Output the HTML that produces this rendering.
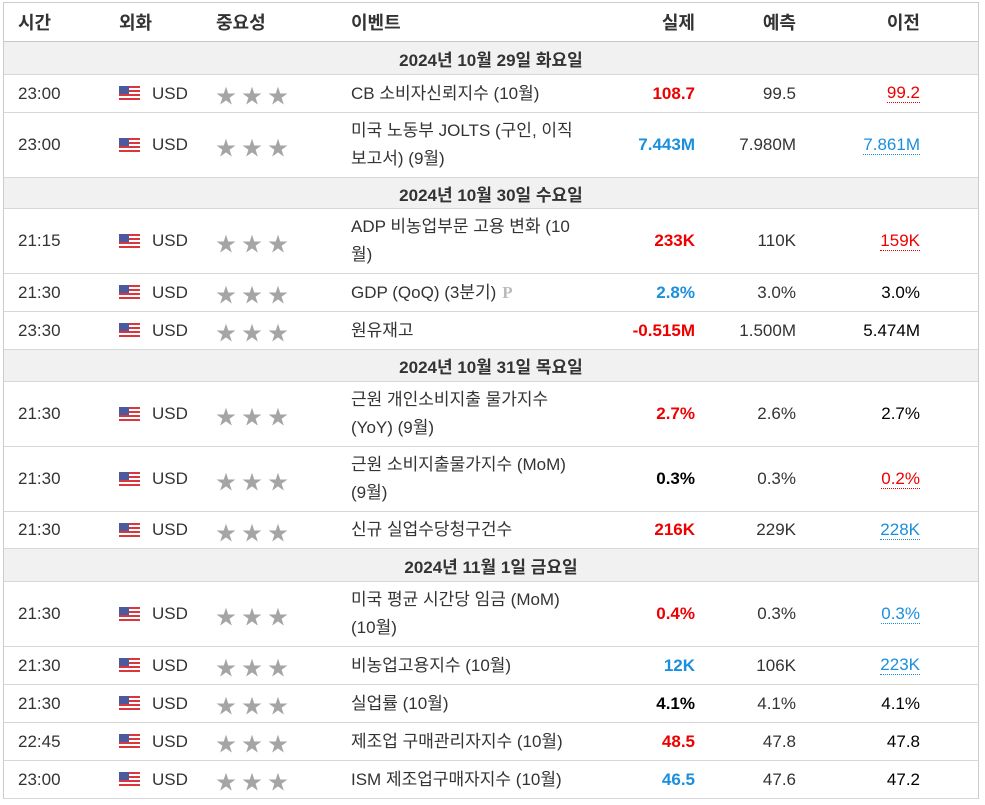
<!DOCTYPE html>
<html><head><meta charset="utf-8">
<style>
body{margin:0;width:985px;height:805px;background:#fff;font-family:"Liberation Sans","Noto Sans CJK KR",sans-serif;color:#333;font-size:17px;position:relative;overflow:hidden}
#tbl{position:absolute;left:3px;top:2px;width:976px;height:797px;border:1px solid #ccc;box-sizing:border-box}
.hdr{position:absolute;left:0;top:0;width:100%;height:38px;border-bottom:3px solid #c8c8c8;font-weight:bold;font-size:18px}
.row{position:absolute;left:0;width:100%;border-bottom:1px solid #d8d8d8;box-sizing:border-box}
.date{background:#f1f1f1;font-weight:bold;text-align:center;color:#333}
.c{position:absolute;top:0;height:100%;display:flex;align-items:center}
.r{justify-content:flex-end}
.flag{width:21px;height:15px;background:repeating-linear-gradient(#d9363e 0 2px,#fff 2px 4px);position:relative}
.flag:before{content:"";position:absolute;left:0;top:0;width:10px;height:8px;background:#4a5a9c}
.stars{color:#a5a5a5;font-size:20px;letter-spacing:6px;padding-top:2px;box-sizing:border-box}
.ev{line-height:28px}
.red{color:#e00}.blue{color:#1a8fdd}.blk{color:#000}
.u{border-bottom:1px dotted currentColor;line-height:18px}
</style></head><body>
<div id="tbl">
<div class="hdr">
<div class="c" style="left:14px">시간</div>
<div class="c" style="left:115px">외화</div>
<div class="c" style="left:212px">중요성</div>
<div class="c" style="left:347px">이벤트</div>
<div class="c r" style="right:283px">실제</div>
<div class="c r" style="right:182px">예측</div>
<div class="c r" style="right:58px">이전</div>
</div>
</div>
<script>
const rows=[
["d",41,33,"2024년 10월 29일 화요일"],
["e",74,38,"23:00","CB 소비자신뢰지수 (10월)","108.7","red","99.5","99.2","red"],
["e",112,65,"23:00","미국 노동부 JOLTS (구인, 이직<br>보고서) (9월)","7.443M","blue","7.980M","7.861M","blue"],
["d",177,31,"2024년 10월 30일 수요일"],
["e",208,65,"21:15","ADP 비농업부문 고용 변화 (10<br>월)","233K","red","110K","159K","red"],
["e",273,38,"21:30","GDP (QoQ) (3분기) <span style='color:#bbb;font-family:Liberation Serif,serif;font-weight:bold;margin-left:6px'>P</span>","2.8%","blue","3.0%","3.0%",""],
["e",311,38,"23:30","원유재고","-0.515M","red","1.500M","5.474M",""],
["d",349,32,"2024년 10월 31일 목요일"],
["e",381,65,"21:30","근원 개인소비지출 물가지수<br>(YoY) (9월)","2.7%","red","2.6%","2.7%",""],
["e",446,65,"21:30","근원 소비지출물가지수 (MoM)<br>(9월)","0.3%","blk","0.3%","0.2%","red"],
["e",511,37,"21:30","신규 실업수당청구건수","216K","red","229K","228K","blue"],
["d",548,33,"2024년 11월 1일 금요일"],
["e",581,65,"21:30","미국 평균 시간당 임금 (MoM)<br>(10월)","0.4%","red","0.3%","0.3%","blue"],
["e",646,38,"21:30","비농업고용지수 (10월)","12K","blue","106K","223K","blue"],
["e",684,38,"21:30","실업률 (10월)","4.1%","blk","4.1%","4.1%",""],
["e",722,38,"22:45","제조업 구매관리자지수 (10월)","48.5","red","47.8","47.8",""],
["e",760,38,"23:00","ISM 제조업구매자지수 (10월)","46.5","blue","47.6","47.2",""]
];
const tbl=document.getElementById('tbl');
rows.forEach((r,i)=>{
 const d=document.createElement('div');
 d.className='row'+(r[0]=='d'?' date':'');
 d.style.top=(r[1]-2)+'px';d.style.height=r[2]+'px';
 if(r[0]=='d'){
  
  
  d.innerHTML='<div class="c" style="left:0;right:0;justify-content:center">'+r[3]+'</div>';
 } else {
  
  
  const prev=r[9]?'<span class="u '+r[9]+'">'+r[8]+'</span>':r[8];
  d.innerHTML='<div class="c" style="left:14px">'+r[3]+'</div>'+
  '<div class="c" style="left:115px"><div class="flag"></div><span style="margin-left:12px">USD</span></div>'+
  '<div class="c stars" style="left:212px">★★★</div>'+
  '<div class="c ev" style="left:347px;width:265px">'+r[4]+'</div>'+
  '<div class="c r '+r[6]+'" style="right:283px;font-weight:bold">'+r[5]+'</div>'+
  '<div class="c r" style="right:182px">'+r[7]+'</div>'+
  '<div class="c r '+(r[9]?'':'blk')+'" style="right:58px">'+prev+'</div>';
 }
 tbl.appendChild(d);
});
</script>
</body></html>
